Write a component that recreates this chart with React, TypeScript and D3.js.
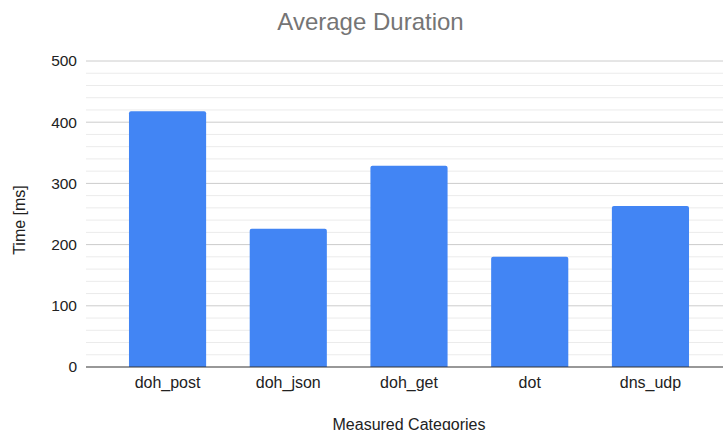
import React from "react";
import * as d3 from "d3";

const categories = ["doh_post", "doh_json", "doh_get", "dot", "dns_udp"];
const durations = [418, 226, 329, 180, 263];
const majorTicks = [0, 100, 200, 300, 400, 500];
const minorTicks = d3.range(0, 501, 20);

const W = 723;
const H = 430;

export default function App() {
  const y = d3.scaleLinear().domain([0, 500]).range([367, 61]);
  const x = d3
    .scaleBand<string>()
    .domain(categories)
    .range([107.25, 710.75])
    .paddingInner(0.361)
    .paddingOuter(0.18);
  const gridX0 = 86;
  const gridX1 = 723;
  const font = "'Liberation Sans', Arial, sans-serif";
  const bw = x.bandwidth();
  const r = 2;

  return (
    <div style={{ position: "fixed", left: 0, top: 0 }}>
      <svg width={W} height={H} style={{ display: "block", background: "#fff" }}>
        <text x={370.5} y={30} textAnchor="middle" fontFamily={font} fontSize={24} fill="#757575">
          Average Duration
        </text>
        {minorTicks
          .filter((t) => t % 100 !== 0)
          .map((t) => (
            <line key={"m" + t} x1={gridX0} x2={gridX1} y1={y(t)} y2={y(t)} stroke="#ebebeb" strokeWidth={1} />
          ))}
        {majorTicks
          .filter((t) => t !== 0)
          .map((t) => (
            <line key={"M" + t} x1={gridX0} x2={gridX1} y1={y(t)} y2={y(t)} stroke="#cccccc" strokeWidth={1} />
          ))}
        {majorTicks.map((t) => (
          <text key={"l" + t} x={77} y={y(t)} dy="0.35em" textAnchor="end" fontFamily={font} fontSize={15.5} fill="#222">
            {t}
          </text>
        ))}
        {categories.map((c, i) => {
          const x0 = x(c)!;
          const y0 = y(durations[i]);
          const y1 = y(0);
          const d = `M${x0},${y1}V${y0 + r}Q${x0},${y0} ${x0 + r},${y0}H${x0 + bw - r}Q${x0 + bw},${y0} ${x0 + bw},${y0 + r}V${y1}Z`;
          return <path key={c} d={d} fill="#4285f4" />;
        })}
        <line x1={gridX0} x2={gridX1} y1={y(0)} y2={y(0)} stroke="#333" strokeWidth={1.2} />
        {categories.map((c) => (
          <text key={"c" + c} x={x(c)! + bw / 2} y={388} textAnchor="middle" fontFamily={font} fontSize={16} fill="#222">
            {c}
          </text>
        ))}
        <text x={409} y={429.5} textAnchor="middle" fontFamily={font} fontSize={16} fill="#222">
          Measured Categories
        </text>
        <text
          transform={`translate(25,${220}) rotate(-90)`}
          textAnchor="middle"
          fontFamily={font}
          fontSize={16}
          fill="#222"
        >
          Time [ms]
        </text>
      </svg>
    </div>
  );
}
